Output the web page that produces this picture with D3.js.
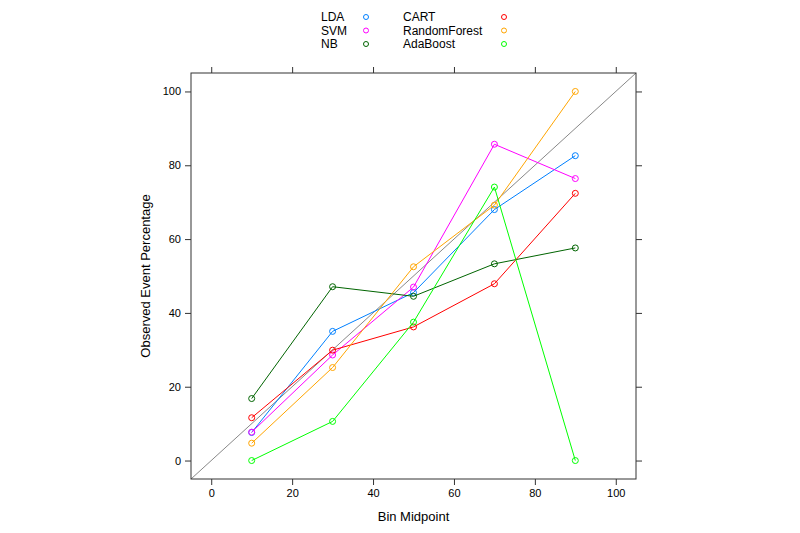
<!DOCTYPE html>
<html>
<head>
<meta charset="utf-8">
<script src="https://cdn.jsdelivr.net/npm/d3@7.9.0/dist/d3.min.js"></script>
<style>
  html, body { margin: 0; padding: 0; background: #fff; }
  svg { display: block; font-family: "Liberation Sans", Arial, Helvetica, sans-serif; }
</style>
</head>
<body>
<svg id="chart" width="800" height="533"></svg>
<script>
// bin midpoints
const midpoints = [10, 30, 50, 70, 90];
const ticks = [0, 20, 40, 60, 80, 100];

// observed event percentage per model
const lda = [7.6, 35.0, 45.5, 68.0, 82.6];
const svm = [7.7, 28.6, 47.0, 85.7, 76.4];
const nb = [16.8, 47.1, 44.5, 53.3, 57.6];
const cart = [11.6, 29.9, 36.2, 47.9, 72.4];
const randomForest = [4.7, 25.2, 52.5, 69.2, 100];
const adaBoost = [0, 10.6, 37.5, 74.1, 0];

const models = ["LDA", "SVM", "NB", "CART", "RandomForest", "AdaBoost"];
const colors = ["#0080ff", "#ff00ff", "#006400", "#ff0000", "#ffa500", "#00ff00"];
const values = [lda, svm, nb, cart, randomForest, adaBoost];

const svg = d3.select("#chart");
const plotL = 191, plotR = 636, plotT = 73, plotB = 479;

const x = d3.scaleLinear().domain([-5, 105]).range([plotL, plotR]);
const y = d3.scaleLinear().domain([-5, 105]).range([plotB, plotT]);

const axisColor = "#333";

// reference diagonal
svg.append("line")
  .attr("x1", x(-5)).attr("y1", y(-5))
  .attr("x2", x(105)).attr("y2", y(105))
  .attr("stroke", "#888").attr("stroke-width", 1);

// series lines + points
const line = d3.line().x((d, i) => x(midpoints[i])).y(d => y(d));
values.forEach((vals, k) => {
  svg.append("path")
    .attr("d", line(vals))
    .attr("fill", "none")
    .attr("stroke", colors[k])
    .attr("stroke-width", 1);
  svg.selectAll(null)
    .data(vals)
    .enter()
    .append("circle")
    .attr("cx", (d, i) => x(midpoints[i]))
    .attr("cy", d => y(d))
    .attr("r", 3)
    .attr("fill", "none")
    .attr("stroke", colors[k])
    .attr("stroke-width", 1);
});

// axes, lattice-style box with ticks on all sides
const axB = svg.append("g").attr("transform", `translate(0,${plotB})`)
  .call(d3.axisBottom(x).tickValues(ticks).tickSize(6).tickPadding(4));
const axT = svg.append("g").attr("transform", `translate(0,${plotT})`)
  .call(d3.axisTop(x).tickValues(ticks).tickSize(6).tickFormat(""));
const axL = svg.append("g").attr("transform", `translate(${plotL},0)`)
  .call(d3.axisLeft(y).tickValues(ticks).tickSize(6).tickPadding(4));
const axR = svg.append("g").attr("transform", `translate(${plotR},0)`)
  .call(d3.axisRight(y).tickValues(ticks).tickSize(6).tickFormat(""));
[axB, axT, axL, axR].forEach(g => {
  g.select(".domain").remove();
  g.selectAll("line").attr("stroke", axisColor);
  g.selectAll("text").attr("fill", "#000").style("font-size", "11px")
    .style("font-family", "'Liberation Sans', Arial, sans-serif");
});

svg.append("rect")
  .attr("x", plotL).attr("y", plotT)
  .attr("width", plotR - plotL).attr("height", plotB - plotT)
  .attr("fill", "none").attr("stroke", axisColor).attr("stroke-width", 1);

// axis titles
svg.append("text")
  .attr("x", (plotL + plotR) / 2).attr("y", 521)
  .attr("text-anchor", "middle")
  .style("font-size", "13px")
  .text("Bin Midpoint");

svg.append("text")
  .attr("transform", `translate(150,${(plotT + plotB) / 2}) rotate(-90)`)
  .attr("text-anchor", "middle")
  .style("font-size", "13px")
  .text("Observed Event Percentage");

// legend, two columns of three
const legTextX = [321, 403];
const legDotX = [366, 504];
const legRowY = [17, 30.5, 44];
models.forEach((m, k) => {
  const col = Math.floor(k / 3), row = k % 3;
  svg.append("text")
    .attr("x", legTextX[col]).attr("y", legRowY[row] + 4.3)
    .style("font-size", "12px")
    .text(m);
  svg.append("circle")
    .attr("cx", legDotX[col]).attr("cy", legRowY[row])
    .attr("r", 2.5)
    .attr("fill", "none")
    .attr("stroke", colors[k])
    .attr("stroke-width", 1);
});
</script>
</body>
</html>
